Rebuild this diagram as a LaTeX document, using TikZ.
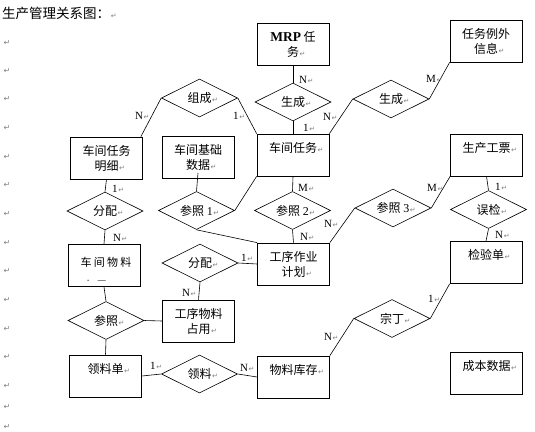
\documentclass[tikz,border=0pt]{standalone}
\usepackage{fontspec}
\setmainfont{Liberation Serif}
\newfontfamily\cjk{Noto Sans CJK SC}
\newfontfamily\djf{DejaVu Sans}
\usetikzlibrary{shapes.geometric}
\definecolor{retgray}{RGB}{128,128,128}
\newcommand\rt{\rlap{\kern0.6pt{\djf\fontsize{7}{7}\selectfont\color{retgray}↵}}}
\newcommand\sr[1]{{\rmfamily #1}}
\tikzset{
  ent/.style={draw, line width=0.75pt, minimum width=72pt, minimum height=42pt, inner sep=0pt, align=center, font=\cjk\fontsize{12}{15}\selectfont},
  rel/.style={draw, diamond, aspect=2, line width=0.6pt, minimum width=76pt, minimum height=38pt, inner sep=0pt, font=\cjk\fontsize{12}{14}\selectfont},
  card/.style={anchor=west, inner sep=0pt, font=\rmfamily\fontsize{11}{12}\selectfont},
  conn/.style={line width=0.6pt},
  ret/.style={text=retgray, font=\djf\fontsize{8}{8}\selectfont, inner sep=0pt}
}
\begin{document}
\begin{tikzpicture}[x=1pt,y=-1pt]
\useasboundingbox (0,0) rectangle (535,431);
% title and margin marks
\node[anchor=west, inner sep=0pt, font=\cjk\fontsize{13.5}{14}\selectfont] (title) at (2,13) {生产管理关系图：\rt};
\foreach \yy [count=\i] in {42.7,70.7,99.3,128,156.7,185.3,214,242.7,271.3,300,328.7,357.3,386,406.7,427.3}
  \node[ret] (mk\i) at (7,\yy) {↵};
% entities
\node[ent] (mrp) at (293,44.5) {{\rmfamily\bfseries\fontsize{13.5}{15}\selectfont MRP} 任\\务\rt};
\node[ent] (rwlw) at (486,41) {任务例外\\信息\rt};
\node[ent] (cjmx) at (106.5,158) {车间任务\\明细\rt};
\node[ent] (cjjc) at (198,157.5) {车间基础\\数据\rt};
\node[ent] (cjrw) at (293,155) {车间任务\rt\\\phantom{字}};
\node[ent] (scgp) at (486.5,155) {生产工票\rt\\\phantom{字}};
\node[ent] (jyd) at (486,262.5) {检验单\rt\\\phantom{字}};
\node[ent] (gxjh) at (293.5,264) {工序作业\\计划\rt};
\node[ent] (cjwl) at (104,265.5) {};
\node[inner sep=0pt, font=\cjk\fontsize{11}{11}\selectfont] (cjwlt) at (106,262) {车\hspace{2.3pt}间\hspace{2.3pt}物\hspace{2.3pt}料};
\begin{scope}
  \clip (68,245) rectangle (140,280.5);
  \node[inner sep=0pt, font=\cjk\fontsize{11}{11}\selectfont] (cjwlt2) at (95,285) {占\hspace{2.3pt}用};
\end{scope}
\node[ent] (gxwl) at (198.5,321) {工序物料\\占用\rt};
\node[ent] (lld) at (105.5,376) {领料单\rt\\\phantom{字}};
\node[ent] (wlkc) at (293.5,377) {物料库存\rt\\\phantom{字}};
\node[ent] (cbsj) at (486.5,373) {成本数据\rt\\\phantom{字}};
% relationships
\node[rel] (zc) at (199.5,98) {组成\rt};
\node[rel] (sc1) at (293,102) {生成\rt};
\node[rel] (sc2) at (391,99) {生成\rt};
\node[rel] (fp1) at (105,211) {分配\rt};
\node[rel] (cz1) at (196.5,210.5) {参照 \sr{1}\rt};
\node[rel] (cz2) at (292.5,210.5) {参照 \sr{2}\rt};
\node[rel] (cz3) at (393,208) {参照 \sr{3}\rt};
\node[rel] (wj) at (488.5,209.5) {误检\rt};
\node[rel] (fp2) at (200,263) {分配\rt};
\node[rel] (czl) at (106,320.5) {参照\rt};
\node[rel] (ll) at (199.5,374) {领料\rt};
\node[rel] (zd) at (392,318.5) {宗丁\rt};
% connectors
\draw[conn] (mrp.south) -- (sc1.north);
\draw[conn] (sc1.south) -- (cjrw.north);
\draw[conn] (zc.west) -- ([xshift=-2pt]cjmx.north east);
\draw[conn] (zc.east) -- (cjrw.north west);
\draw[conn] (sc2.west) -- (cjrw.north east);
\draw[conn] (sc2.east) -- (rwlw.south west);
\draw[conn] (cjmx.south) -- (fp1.north);
\draw[conn] (fp1.south) -- (cjwl.north);
\draw[conn] ([yshift=6pt]cjjc.south) -- (cz1.north);
\draw[conn] (cz1.east) -- (cjrw.south west);
\draw[conn] (cz1.south) -- (gxjh.north west);
\draw[conn] (cjrw.south) -- (cz2.north);
\draw[conn] (cz2.south) -- (gxjh.north);
\draw[conn] (cz3.west) -- (gxjh.north east);
\draw[conn] (cz3.east) -- (scgp.south west);
\draw[conn] (scgp.south) -- (wj.north);
\draw[conn] (wj.south) -- (jyd.north);
\draw[conn] (fp2.east) -- (gxjh.west);
\draw[conn] (fp2.south) -- (gxwl.north);
\draw[conn] (cjwl.south) -- (czl.north);
\draw[conn] (czl.east) -- (gxwl.west);
\draw[conn] (czl.south) -- (lld.north);
\draw[conn] (lld.east) -- (ll.west);
\draw[conn] (ll.east) -- (wlkc.west);
\draw[conn] (wlkc.north east) -- (zd.west);
\draw[conn] (zd.east) -- (jyd.south west);
% cardinalities
\node[card] (c1) at (299,80) {N\rt};
\node[card] (c2) at (303,128) {1\rt};
\node[card] (c3) at (135,116) {N\rt};
\node[card] (c4) at (233,116) {1\rt};
\node[card] (c5) at (323,117) {N\rt};
\node[card] (c6) at (426,79) {M\rt};
\node[card] (c7) at (112,189) {1\rt};
\node[card] (c8) at (113,238) {N\rt};
\node[card] (c9) at (298,188) {M\rt};
\node[card] (c10) at (300,237) {N\rt};
\node[card] (c11) at (324,224) {N\rt};
\node[card] (c12) at (427,188) {M\rt};
\node[card] (c13) at (495,187) {1\rt};
\node[card] (c14) at (495,235) {N\rt};
\node[card] (c15) at (241,258) {1\rt};
\node[card] (c16) at (182,293) {N\rt};
\node[card] (c17) at (150,366) {1\rt};
\node[card] (c18) at (240,368) {N\rt};
\node[card] (c19) at (324,337) {N\rt};
\node[card] (c20) at (428,299) {1\rt};
\end{tikzpicture}
\end{document}
